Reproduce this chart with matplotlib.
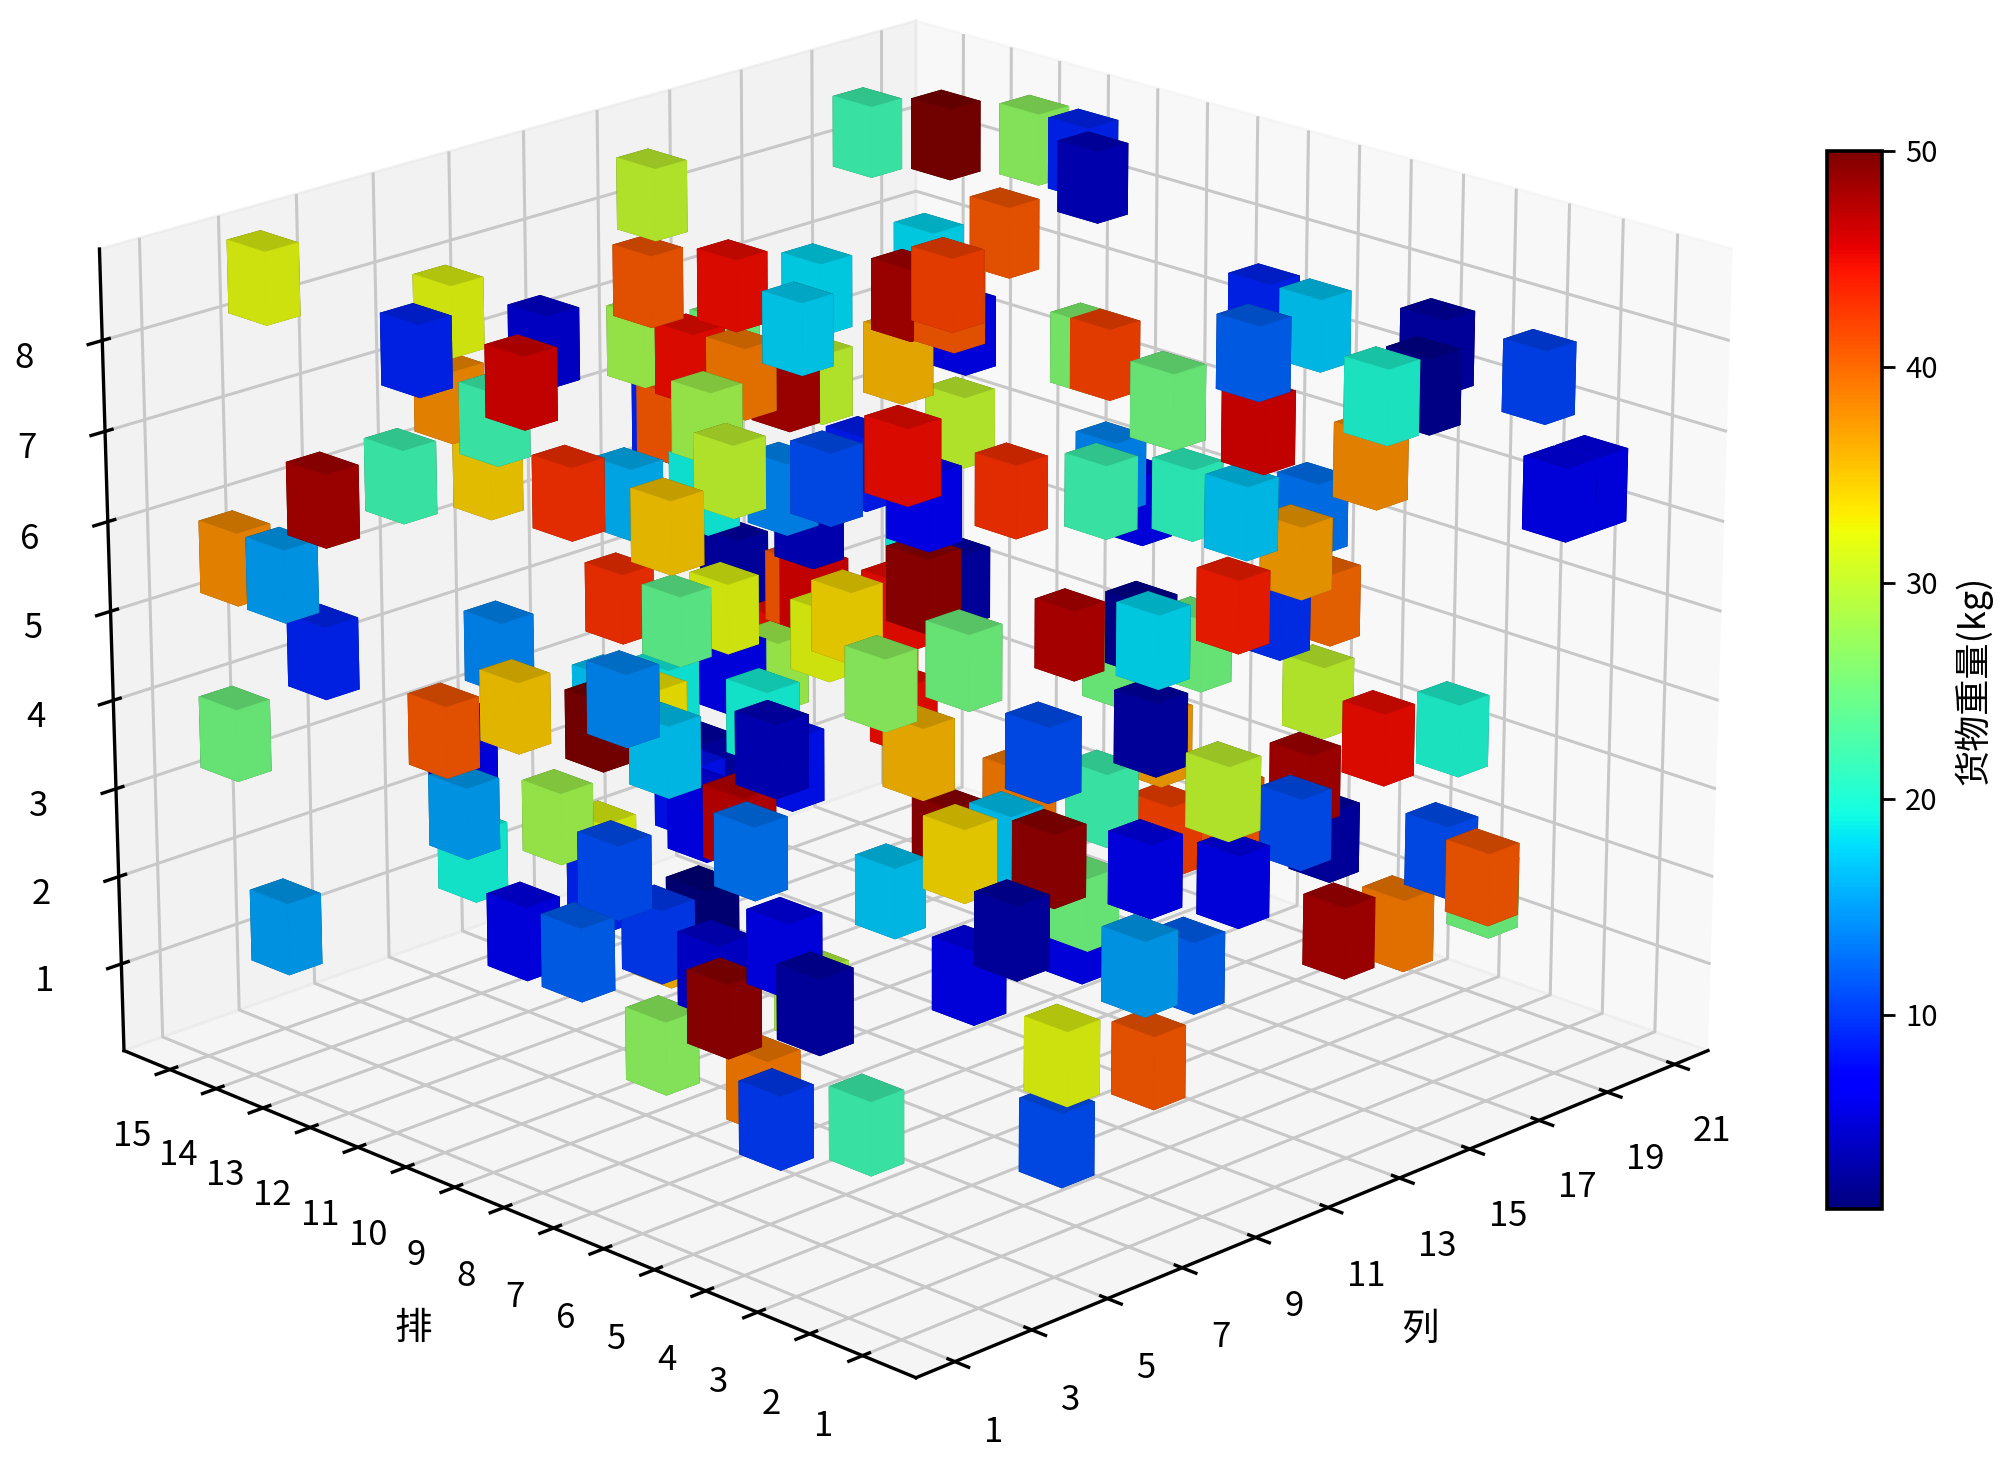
import numpy as np
import matplotlib
matplotlib.use("Agg")
import matplotlib.pyplot as plt
from matplotlib.cm import ScalarMappable
from matplotlib.colors import Normalize

plt.rcParams['font.family'] = ['Noto Sans CJK SC', 'DejaVu Sans']
plt.rcParams['axes.linewidth'] = 1.2
plt.rcParams['xtick.major.width'] = 1.2
plt.rcParams['ytick.major.width'] = 1.2
plt.rcParams['grid.color'] = '#c8c8c8'
plt.rcParams['grid.linewidth'] = 1.1

# 货物位置（列、排、层）和重量
col = [3.3, 8.2, 6.1, 8.2, 6.2, 8.3, 8.0, 4.4, 2.4, 9.3, 6.0, 10.4, 6.0, 2.4, 2.4, 12.3, 12.3, 13.4, 14.2, 13.3,
       13.3, 11.0, 14.4, 14.2, 11.7, 18.3, 19.3, 20.3, 20.3, 19.3, 19.6, 17.3, 12.3, 14.3, 12.3, 15.3, 18.4, 18.5, 15.4, 16.3,
       18.1, 13.4, 17.3, 9.1, 12.8, 10.1, 11.2, 4.5, 18.2, 20.2, 6.7, 12.1, 13.3, 18.3, 18.2, 14.3, 19.3, 17.2, 21.1, 19.4,
       19.4, 10.2, 19.6, 19.6, 13.4, 14.3, 16.1, 14.2, 13.2, 20.3, 14.3, 19.4, 20.3, 14.1, 18.1, 19.4, 15.6, 11.6, 15.7, 21.1,
       11.7, 19.1, 18.0, 19.4, 3.4, 9.4, 7.3, 5.4, 8.5, 2.4, 11.1, 13.3, 12.2, 5.7, 13.1, 13.0, 14.2, 12.3, 7.7, 16.2,
       17.1, 15.2, 16.0, 16.2, 14.5, 15.4, 16.2, 6.9, 5.8, 8.9, 10.9, 9.8, 9.1, 6.0, 5.9, 7.6, 7.0, 9.7, 2.6, 8.3,
       5.1, 2.4, 2.4, 2.4, 4.1, 5.4, 7.2, 3.6, 2.1, 2.4, 0.6, 4.0, 3.4, 3.4, 2.4, 3.4, 5.5, 12.1, 7.8, 15.2,
       8.9, 8.8, 6.8, 5.7, 11.0, 13.0, 9.7, 13.9, 6.1, 13.4, 5.8, 10.8, 11.8, 14.9, 14.9, 11.1, 19.6, 9.8, 4.7, 7.1,
       15.0, 13.1, 18.9, 12.0, 18.0, 20.1, 18.9, 10.2, 17.0, 20.4, 16.8, 17.9, 17.4, 17.9, 20.4, 9.4, 5.2]
row = [15.3, 15.4, 14.4, 13.4, 12.3, 15.5, 14.3, 13.4, 13.4, 15.5, 11.2, 13.4, 9.2, 15.3, 14.3, 14.3, 14.4, 15.4, 15.5, 14.3,
       13.4, 12.2, 14.4, 15.4, 12.8, 14.3, 13.4, 12.3, 11.3, 10.4, 12.4, 12.3, 8.3, 12.4, 11.3, 11.3, 13.3, 12.5, 10.5, 12.2,
       15.2, 13.3, 15.3, 10.3, 12.0, 9.1, 9.2, 3.5, 12.3, 14.6, 4.7, 6.9, 6.0, 9.3, 7.7, 4.0, 6.0, 4.9, 10.7, 10.6,
       10.2, 2.6, 7.2, 6.2, 3.2, 3.7, 1.6, 0.6, 0.7, 2.4, 1.6, 1.4, 1.4, 4.0, 5.9, 5.8, 6.8, 3.8, 5.8, 11.1,
       3.9, 5.7, 3.8, 3.3, 14.3, 15.4, 13.4, 13.4, 15.5, 15.4, 14.6, 14.9, 15.3, 9.9, 15.7, 14.4, 14.3, 14.4, 10.6, 15.6,
       15.5, 14.9, 14.6, 14.2, 12.4, 13.4, 13.9, 8.0, 7.0, 9.0, 12.3, 11.7, 10.9, 7.8, 13.4, 14.6, 12.3, 13.5, 7.7, 12.4,
       6.9, 14.4, 9.4, 8.3, 8.0, 8.1, 10.2, 6.5, 4.0, 5.4, 2.3, 4.9, 7.4, 5.4, 4.4, 3.4, 1.3, 9.3, 4.8, 10.4,
       4.7, 3.8, 3.9, 2.3, 4.7, 6.2, 2.6, 3.8, 0.2, 4.3, 1.8, 5.8, 4.9, 6.0, 5.8, 8.0, 14.5, 7.8, 2.5, 5.0,
       10.1, 9.9, 14.4, 10.1, 9.9, 8.1, 5.8, 1.5, 4.7, 6.4, 3.7, 2.5, 1.4, 3.3, 3.3, 2.3, 1.0]
layer = [8, 7, 7, 7, 7, 6, 6, 6, 6, 5, 6, 5, 6, 5, 5, 8, 7, 6, 5, 6,
         7, 6, 6, 5, 5, 8, 8, 8, 8, 8, 7, 7, 8, 7, 7, 7, 6, 6, 7, 6,
         5, 6, 5, 6, 5, 6, 6, 8, 5, 3, 7, 6, 6, 5, 5, 6, 5, 5, 4, 6,
         6, 8, 7, 7, 8, 7, 8, 8, 8, 7, 7, 6, 6, 5, 4, 4, 4, 5, 4, 2,
         4, 3, 3, 3, 4, 3, 3, 3, 2, 3, 2, 2, 2, 4, 3, 3, 3, 2, 3, 3,
         2, 2, 2, 3, 3, 4, 3, 4, 4, 3, 2, 2, 2, 3, 2, 1, 2, 1, 3, 1,
         3, 1, 2, 2, 2, 2, 1, 2, 3, 2, 3, 2, 1, 1, 1, 1, 1, 1, 3, 1,
         3, 3, 2, 3, 2, 1, 3, 2, 3, 1, 5, 3, 3, 3, 2, 3, 1, 4, 6, 6,
         4, 4, 2, 4, 3, 1, 2, 4, 2, 1, 1, 2, 2, 1, 1, 1, 2]
weight = [32, 32, 9, 5, 46, 38, 22, 22, 48, 34.5, 43, 16, 35, 38, 15, 30, 41, 28, 9, 45,
          45, 28, 25, 41, 19, 22, 50, 27, 9, 4, 41, 18, 42, 18, 17.5, 48, 2, 6, 41, 36,
          30, 39, 48, 30, 14, 11, 8.5, 45, 30, 19, 7, 43, 22, 14, 21, 17, 13, 37, 6, 26,
          42, 25, 9, 17, 12, 46, 3, 2, 20, 10.5, 38, 6, 6, 44, 9.5, 40, 2, 18, 25, 25,
          3, 30, 45, 20, 9, 14, 35, 41, 6, 25, 50, 19, 17, 14, 43, 24, 32, 33, 17, 3,
          45, 6, 28, 41, 32, 4, 46, 19.5, 4, 8, 3, 8, 6, 47, 15, 19.5, 28, 32, 11, 9,
          13, 15, 6, 12, 10, 1, 36, 5, 6, 49, 3, 29, 27, 39, 10, 22, 11, 17, 34, 49,
          17, 49, 6, 3, 25, 6, 6, 6, 15, 12, 11, 39, 22, 37, 42, 36, 45, 27, 25, 49,
          3, 45, 39, 34, 47.5, 41, 48, 30, 11, 3, 48, 11, 41, 39, 25, 41, 32]

W, H = 2000, 1467
S, cx, cy = 1767.1, 892.1, 679.8
fig = plt.figure(figsize=(10, 7.335), dpi=200)
ax = fig.add_axes([(cx-S/2)/W, 1-(cy+S/2)/H, S/W, S/H], projection='3d')
ax.view_init(elev=20, azim=-135)

norm = Normalize(vmin=1, vmax=50)
colors = plt.cm.jet(norm(np.array(weight)))
dx, dy, dz = 0.85, 0.8, 0.8
ax.bar3d(np.array(col)+0.4-dx, np.array(row)+0.4-dy, np.array(layer), dx, dy, dz, color=colors,
         edgecolors=np.repeat(colors, 6, axis=0), linewidth=0.4, shade=True)

ax.set_xlim(0, 22); ax.set_ylim(0, 16); ax.set_zlim(0, 9)
ax.set_xticks(range(1, 22, 2)); ax.set_yticks(range(1, 16)); ax.set_zticks(range(1, 9))
ax.tick_params(axis='x', labelsize=12.5, pad=7)
ax.tick_params(axis='y', labelsize=12.5, pad=7)
ax.tick_params(axis='z', labelsize=12.5, pad=8)
fig.text(413/W, 1-1328/H, "排", fontsize=13.5, ha='center', va='center')
fig.text(1420/W, 1-1329/H, "列", fontsize=13.5, ha='center', va='center')

cax = fig.add_axes([1827/W, 1-1209/H, 55/W, 1058/H])
cb = fig.colorbar(ScalarMappable(norm=norm, cmap='jet'), cax=cax)
cb.set_ticks([10, 20, 30, 40, 50])
cb.ax.tick_params(labelsize=10.5, length=4.8, width=1.0)
cb.outline.set_linewidth(1.3)
cb.set_label("货物重量(kg)", fontsize=13, labelpad=6)
fig.savefig("out.png", dpi=200)
